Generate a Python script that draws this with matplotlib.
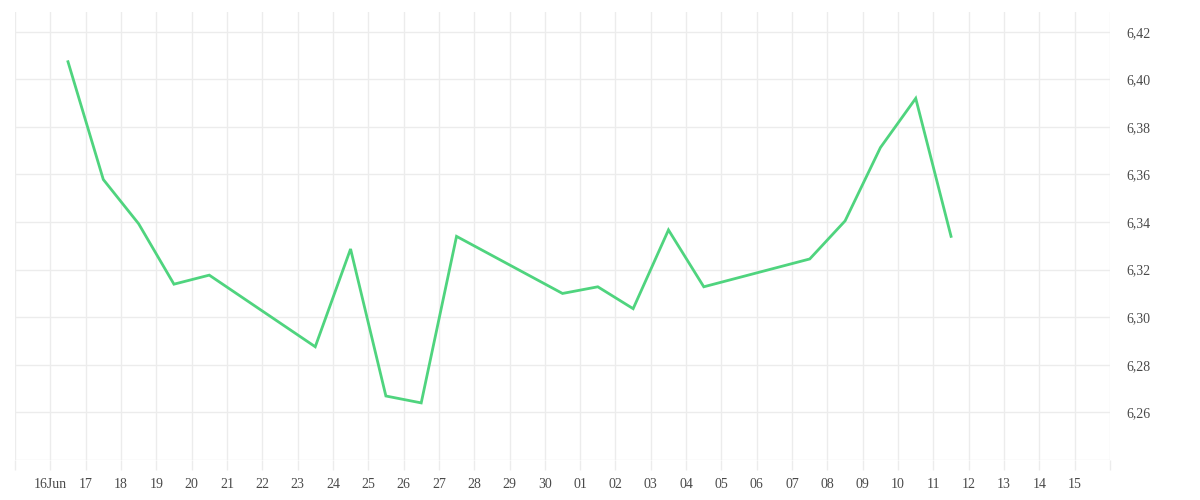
import matplotlib
matplotlib.use("Agg")
import matplotlib.pyplot as plt
import datetime as dt

# Data
dates = ["2025-06-16", "2025-06-17", "2025-06-18", "2025-06-19", "2025-06-20",
         "2025-06-23", "2025-06-24", "2025-06-25", "2025-06-26", "2025-06-27",
         "2025-06-30", "2025-07-01", "2025-07-02", "2025-07-03", "2025-07-04",
         "2025-07-07", "2025-07-08", "2025-07-09", "2025-07-10", "2025-07-11"]
values = [6.4074, 6.3579, 6.3393, 6.3139, 6.3177,
          6.2876, 6.3287, 6.2669, 6.2640, 6.3340,
          6.3100, 6.3128, 6.3036, 6.3367, 6.3128,
          6.3245, 6.3405, 6.3713, 6.3920, 6.3340]
y_ticks = [6.26, 6.28, 6.30, 6.32, 6.34, 6.36, 6.38, 6.40, 6.42]

x = [dt.datetime.strptime(d, "%Y-%m-%d") + dt.timedelta(hours=12) for d in dates]

fig = plt.figure(figsize=(12, 5), dpi=100)
ax = fig.add_axes([0.0125, 0.08, 0.9125, 0.896])

ax.plot(x, values, color="#4fd47e", linewidth=2.0, solid_joinstyle="miter")

start = dt.datetime(2025, 6, 15)
end = dt.datetime(2025, 7, 16)
ax.set_xlim(start, end)
ax.set_ylim(6.24, 6.4283)

days = [start + dt.timedelta(days=i) for i in range(32)]
ax.set_xticks(days)
labels = []
for d in days:
    if d == start or d == end:
        labels.append("")
    elif d == dt.datetime(2025, 6, 16):
        labels.append("16Jun")
    else:
        labels.append(d.strftime("%d"))
ax.set_xticklabels(labels)

ygrid = [6.24] + y_ticks
ax.set_yticks(ygrid)
ax.set_yticklabels([""] + [f"{v:.2f}".replace(".", ",") for v in y_ticks])
ax.yaxis.tick_right()

for s in ax.spines.values():
    s.set_visible(False)

ax.grid(True, color="#ececec", linewidth=1.0)
ax.set_axisbelow(True)
ax.tick_params(axis="x", length=7, width=1.0, color="#ececec", pad=6,
               labelsize=10, labelcolor="#4a4a4a")
ax.tick_params(axis="y", length=0, pad=12, labelsize=10, labelcolor="#4a4a4a")
for lab in ax.get_xticklabels() + ax.get_yticklabels():
    lab.set_fontfamily("Liberation Serif")

fig.savefig("out.png", dpi=100, facecolor="white")
